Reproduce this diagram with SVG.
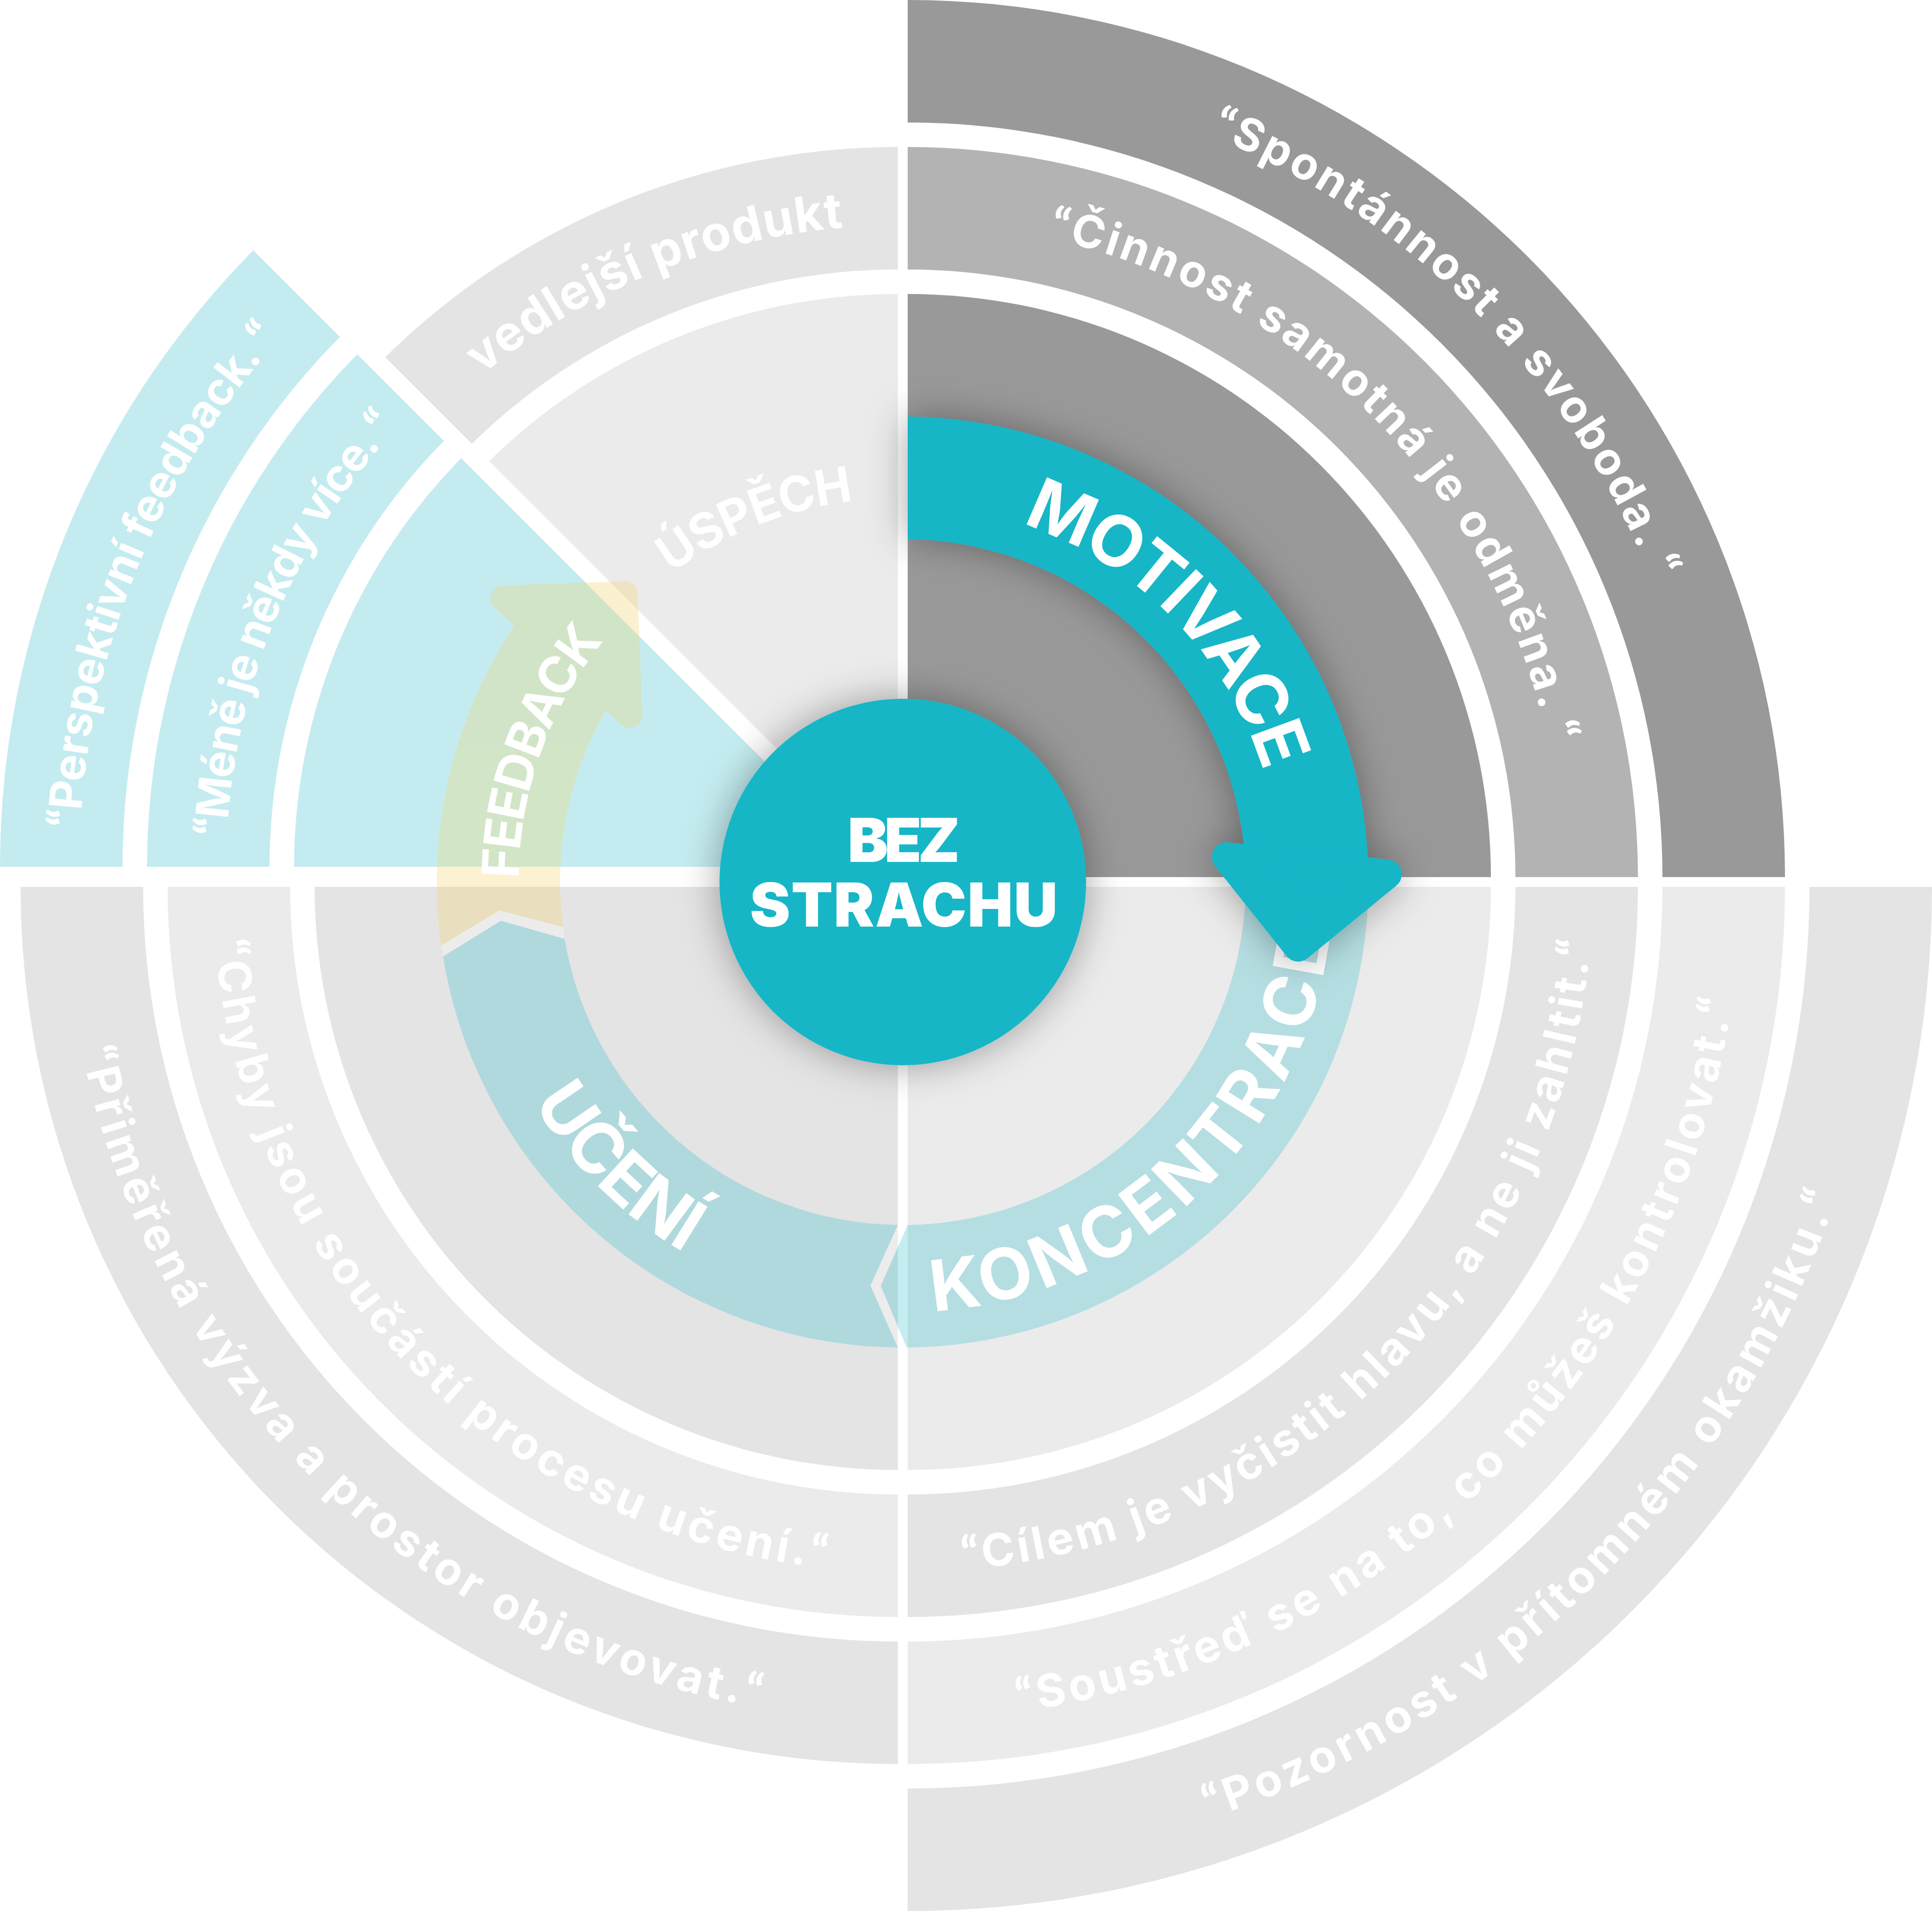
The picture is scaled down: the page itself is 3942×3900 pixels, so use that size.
<svg xmlns="http://www.w3.org/2000/svg" width="3942" height="3900" viewBox="0 0 3942 3900">
<defs>
<style>
.t{font-family:Inter,Lato,"Open Sans","DejaVu Sans",sans-serif;font-weight:700;fill:#fff}
.q{font-size:92px}
.lq{font-family:Lato,"Open Sans",sans-serif;font-weight:900}
.lbl{font-size:144px}
.dk{fill:#999999}
.md{fill:#b3b3b3}
.l1{fill:#e4e4e4}
.l2{fill:#ebebeb}
.bl{fill:#c4ecf0}
.tt{fill:#12b6c7;opacity:0.25}
.gap{fill:#ffffff;opacity:0.3}
.ctr{font-family:Inter,Lato,"Open Sans",sans-serif;font-weight:900;font-size:124px;fill:#fff}
</style>
<filter id="sh" filterUnits="userSpaceOnUse" x="0" y="0" width="3942" height="3900"><feDropShadow dx="0" dy="0" stdDeviation="40" flood-color="#000" flood-opacity="0.35"/></filter>
<clipPath id="cBlue"><polygon points="-100,-106 2100,2094 -100,2094"/></clipPath>
<clipPath id="cGrey"><polygon points="-100,-157 2100,2043 2100,-300 -100,-300"/></clipPath>
<path id="p_a" d="M 2469.7,276.2 A 1635 1635 0 0 1 3439.8,1400"/>
<path id="p_b" d="M 2138.7,486.1 A 1335 1335 0 0 1 3183.9,1699.2"/>
<path id="p_mot" d="M 2085,1069.3 A 770 770 0 0 1 2602.5,1679.5"/>
<path id="p_usp" d="M 1370,1170.2 A 773 773 0 0 1 1849.5,1017.2"/>
<path id="p_ved" d="M 984.3,765.1 A 1330 1330 0 0 1 1906.2,462.1"/>
<path id="p_per" d="M 163.9,1689.5 A 1628 1628 0 0 1 732.7,531.1"/>
<path id="p_men" d="M 463.5,1706.4 A 1328 1328 0 0 1 945.3,744.3"/>
<path id="p_fb" d="M 1058,1793.2 A 784 784 0 0 1 1306.4,1227.5"/>
<path id="p_kon" d="M 1903.3,2675.9 A 878 878 0 0 0 2720,1790.8"/>
<path id="p_uc" d="M 1087.8,2249.6 A 878 878 0 0 0 1506,2611.2"/>
<path id="p_chy" d="M 438.3,1919.7 A 1398 1398 0 0 0 1880.8,3207.1"/>
<path id="p_pri" d="M 166.6,2141.3 A 1698 1698 0 0 0 1786.1,3507.4"/>
<path id="p_cil" d="M 1964.1,3203.5 A 1398 1398 0 0 0 3247.4,1724.7"/>
<path id="p_sou" d="M 2076.6,3493.1 A 1698 1698 0 0 0 3550,1804.1"/>
<path id="p_poz" d="M 2466.1,3711.3 A 1998 1998 0 0 0 3817.2,2170.7"/>
</defs>
<rect width="3942" height="3900" fill="#ffffff"/>

<g id="quadrant-motivace">
<path class="dk" d="M 1852,0 A 1790 1790 0 0 1 3642,1790 L 3392,1790 A 1540 1540 0 0 0 1852,250 Z"/>
<path class="md" d="M 1852,300 A 1490 1490 0 0 1 3342,1790 L 3092,1790 A 1240 1240 0 0 0 1852,550 Z"/>
<path class="dk" d="M 1852,1790 L 1852,600 A 1190 1190 0 0 1 3042,1790 Z"/>
<text class="t q"><textPath href="#p_a" textLength="1312.7" lengthAdjust="spacing"><tspan class="lq">“</tspan>Spontánnost a svoboda. <tspan class="lq">“</tspan></textPath></text>
<text class="t q"><textPath href="#p_b" textLength="1530.8" lengthAdjust="spacing"><tspan class="lq">“</tspan>Činnost samotná je odměna. <tspan class="lq">“</tspan></textPath></text>
</g>

<g id="quadrant-uspech" clip-path="url(#cGrey)">
<path class="l1" d="M 342,1790 A 1490 1490 0 0 1 1832,300 L 1832,550 A 1240 1240 0 0 0 592,1790 Z"/>
<path class="l2" d="M 1832,1790 L 642,1790 A 1190 1190 0 0 1 1832,600 Z"/>
</g>
<g id="uspech-labels">
<text class="t" style="font-size:100px"><textPath href="#p_ved" textLength="807.8" lengthAdjust="spacing">vedlejší produkt</textPath></text>
<text class="t" style="font-size:100px"><textPath href="#p_usp" textLength="404.7" lengthAdjust="spacing">ÚSPĚCH</textPath></text>
</g>

<g id="quadrant-feedback">
<g clip-path="url(#cBlue)">
<path class="bl" d="M 0,1769 A 1790 1790 0 0 1 1790,-21 L 1790,229 A 1540 1540 0 0 0 250,1769 Z"/>
<path class="bl" d="M 300,1769 A 1490 1490 0 0 1 1790,279 L 1790,529 A 1240 1240 0 0 0 550,1769 Z"/>
<path class="bl" d="M 1790,1769 L 600,1769 A 1190 1190 0 0 1 1790,579 Z"/>
</g>
<text class="t q"><textPath href="#p_per" textLength="1099.6" lengthAdjust="spacing"><tspan class="lq">“</tspan>Perspektivní feedback. <tspan class="lq">“</tspan></textPath></text>
<text class="t q"><textPath href="#p_men" textLength="922.5" lengthAdjust="spacing"><tspan class="lq">“</tspan>Méně je někdy více. <tspan class="lq">“</tspan></textPath></text>
</g>

<g id="quadrant-uceni">
<path class="l1" d="M 1832,3600 A 1790 1790 0 0 1 42,1810 L 292,1810 A 1540 1540 0 0 0 1832,3350 Z"/>
<path class="l2" d="M 1832,3300 A 1490 1490 0 0 1 342,1810 L 592,1810 A 1240 1240 0 0 0 1832,3050 Z"/>
<path class="l1" d="M 1832,1810 L 1832,3000 A 1190 1190 0 0 1 642,1810 Z"/>
<text class="t q"><textPath href="#p_chy" textLength="1939.8" lengthAdjust="spacing"><tspan class="lq">“</tspan>Chyby jsou součástí procesu učení.<tspan class="lq">“</tspan></textPath></text>
<text class="t q"><textPath href="#p_pri" textLength="2050.8" lengthAdjust="spacing"><tspan class="lq">“</tspan>Přiměřená výzva a prostor objevovat.<tspan class="lq">“</tspan></textPath></text>
</g>

<g id="quadrant-koncentrace">
<path class="l1" d="M 3942,1810 A 2090 2090 0 0 1 1852,3900 L 1852,3650 A 1840 1840 0 0 0 3692,1810 Z"/>
<path class="l2" d="M 3642,1810 A 1790 1790 0 0 1 1852,3600 L 1852,3350 A 1540 1540 0 0 0 3392,1810 Z"/>
<path class="l1" d="M 3342,1810 A 1490 1490 0 0 1 1852,3300 L 1852,3050 A 1240 1240 0 0 0 3092,1810 Z"/>
<path class="l2" d="M 1852,1810 L 3042,1810 A 1190 1190 0 0 1 1852,3000 Z"/>
<text class="t q"><textPath href="#p_cil" textLength="1973.9" lengthAdjust="spacing"><tspan class="lq">“</tspan>Cílem je vyčistit hlavu, a ne ji zahltit.<tspan class="lq">“</tspan></textPath></text>
<text class="t q"><textPath href="#p_sou" textLength="2210.8" lengthAdjust="spacing"><tspan class="lq">“</tspan>Soustřeď se na to, co můžeš kontrolovat.<tspan class="lq">“</tspan></textPath></text>
<text class="t q"><textPath href="#p_poz" textLength="1872.6" lengthAdjust="spacing"><tspan class="lq">“</tspan>Pozornost v přítomném okamžiku.<tspan class="lq">“</tspan></textPath></text>
</g>

<g id="connectors">
<path class="tt" d="M 2542,1800 L 2792,1800 A 950 950 0 0 1 1850,2749.97 L 1797,2624 L 1852,2499.93 A 700 700 0 0 0 2542,1800 Z"/>
<path class="tt" d="M 1832,2499.93 L 1776,2624 L 1832,2749.95 A 950 950 0 0 1 904,1952 L 1022,1879 L 1152,1916 A 700 700 0 0 0 1832,2499.93 Z"/>
<polygon class="gap" points="900,1930 1019,1858 1149,1892 1152,1916 1022,1879 904,1952"/>
<polygon class="gap" points="1832,2500 1776,2624 1832,2750 1850,2750 1797,2624 1852,2500"/>
<g opacity="0.3" fill="#f5d36a" stroke="#f5d36a">
<path stroke="none" d="M 900,1930 L 1019,1858 L 1149,1892 A 700 700 0 0 1 1248.4,1429.1 L 1073.4,1241.6 A 950 950 0 0 0 900,1930 Z"/>
<polygon points="1026.1,1220.7 1275,1211.9 1284.6,1459.4" stroke-width="52" stroke-linejoin="round"/>
</g>
<text class="t lbl"><textPath href="#p_kon" textLength="1204.5" lengthAdjust="spacing">KONCENTRACE</textPath></text>
<text class="t lbl"><textPath href="#p_uc" textLength="439.8" lengthAdjust="spacing">UČENÍ</textPath></text>
<text class="t" style="font-size:104px"><textPath href="#p_fb" textLength="525.5" lengthAdjust="spacing">FEEDBACK</textPath></text>
<g id="arrow-motivace" filter="url(#sh)" fill="#12b6c7">
<path d="M 1852,850.05 A 950 950 0 0 1 2791.9,1783.4 L 2541.9,1787.8 A 700 700 0 0 0 1852,1100.07 Z"/>
<polygon points="2502.7,1749 2830,1784.2 2648.7,1932.5" stroke="#12b6c7" stroke-width="60" stroke-linejoin="round"/>
</g>
<text class="t lbl"><textPath href="#p_mot" textLength="733.8" lengthAdjust="spacing">MOTIVACE</textPath></text>
</g>

<g id="center">
<circle cx="1842" cy="1800" r="374" fill="#12b6c7" filter="url(#sh)"/>
<text class="ctr" x="1844" y="1759" text-anchor="middle" textLength="229" lengthAdjust="spacing">BEZ</text>
<text class="ctr" x="1844" y="1891" text-anchor="middle" textLength="628" lengthAdjust="spacing">STRACHU</text>
</g>
</svg>
